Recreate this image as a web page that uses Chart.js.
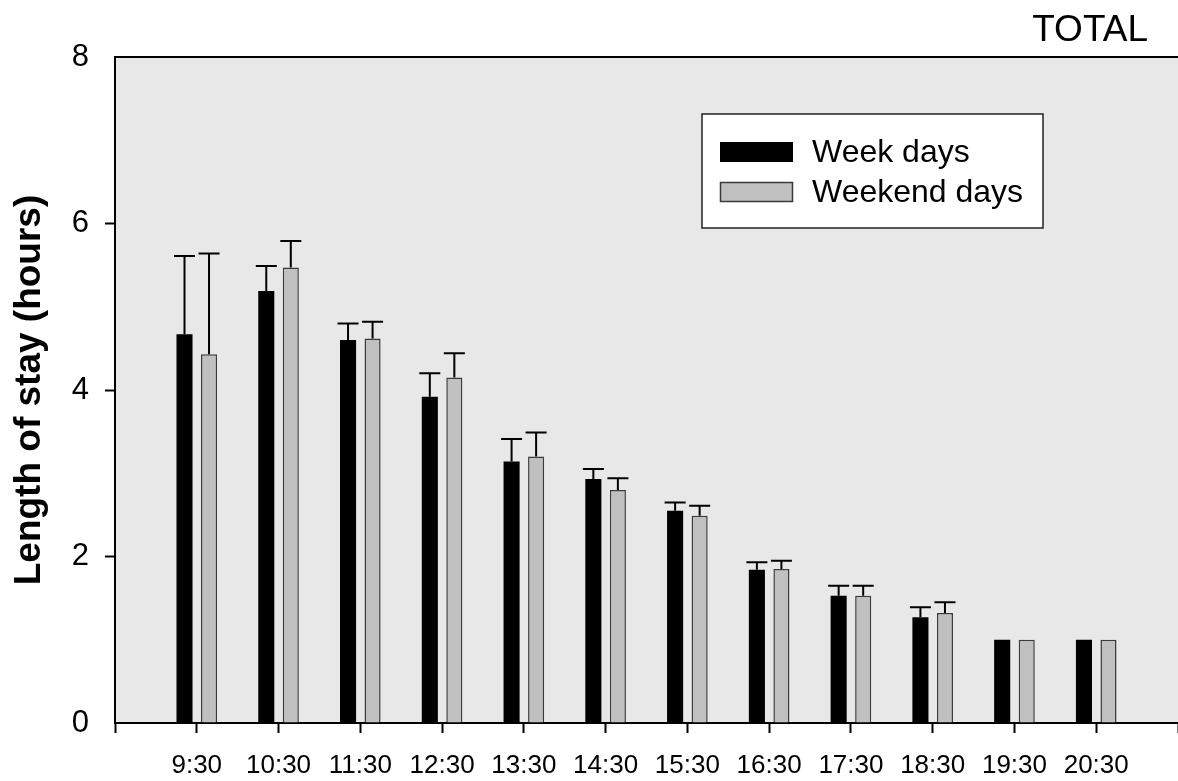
<!DOCTYPE html>
<html>
<head>
<meta charset="utf-8">
<script src="https://cdn.jsdelivr.net/npm/chart.js@4.4.0/dist/chart.umd.min.js"></script>
<style>
  html, body { margin: 0; padding: 0; background: #fff; }
</style>
</head>
<body>
<canvas id="stayChart" width="1178" height="781"></canvas>
<script>
const chartTitle = 'TOTAL';
const timeLabels = ['9:30', '10:30', '11:30', '12:30', '13:30', '14:30', '15:30', '16:30', '17:30', '18:30', '19:30', '20:30'];
const weekDays = [4.67, 5.19, 4.60, 3.92, 3.14, 2.93, 2.55, 1.84, 1.53, 1.27, 1.00, 1.00];
const weekendDays = [4.43, 5.47, 4.62, 4.15, 3.20, 2.80, 2.49, 1.85, 1.53, 1.32, 1.00, 1.00];
// upper error bars (only the plus side is drawn)
const weekDaysErr = [0.94, 0.30, 0.20, 0.28, 0.27, 0.12, 0.10, 0.09, 0.12, 0.12, 0, 0];
const weekendDaysErr = [1.21, 0.32, 0.20, 0.29, 0.29, 0.14, 0.12, 0.10, 0.12, 0.13, 0, 0];
const yTicks = [0, 2, 4, 6, 8];

Chart.defaults.font.family = "'Liberation Sans', Arial, sans-serif";
Chart.defaults.color = '#000';

function toPoints(values) {
    return values.map((v, i) => ({ x: i + 1, y: v }));
}

const plotBackground = {
    id: 'plotBackground',
    beforeDraw(chart) {
        const { ctx, chartArea } = chart;
        ctx.save();
        ctx.fillStyle = '#e8e8e8';
        ctx.fillRect(chartArea.left, chartArea.top, chart.width - chartArea.left, chartArea.bottom - chartArea.top);
        ctx.restore();
    },
    afterDraw(chart) {
        const { ctx, chartArea } = chart;
        ctx.save();
        ctx.strokeStyle = '#000';
        ctx.lineWidth = 2;
        ctx.beginPath();
        ctx.moveTo(chartArea.left - 1, chartArea.top);
        ctx.lineTo(chart.width, chartArea.top);
        ctx.stroke();
        // title in the top right corner
        ctx.font = "37px 'Liberation Sans', Arial, sans-serif";
        ctx.fillStyle = '#000';
        ctx.textAlign = 'right';
        ctx.textBaseline = 'alphabetic';
        ctx.fillText(chartTitle, chart.width - 30, chartArea.top - 16);
        ctx.restore();
    }
};

const errorBars = {
    id: 'errorBars',
    afterDatasetsDraw(chart) {
        const ctx = chart.ctx;
        const yScale = chart.scales.y;
        chart.data.datasets.forEach((ds, di) => {
            const meta = chart.getDatasetMeta(di);
            meta.data.forEach((bar, i) => {
                const err = ds.errors[i];
                if (!err) return;
                const top = yScale.getPixelForValue(ds.data[i].y + err);
                ctx.save();
                ctx.strokeStyle = '#000';
                ctx.lineWidth = 2;
                ctx.beginPath();
                ctx.moveTo(bar.x, bar.y);
                ctx.lineTo(bar.x, top);
                ctx.moveTo(bar.x - 10.5, top);
                ctx.lineTo(bar.x + 10.5, top);
                ctx.stroke();
                ctx.restore();
            });
        });
    }
};

const boxLegend = {
    id: 'boxLegend',
    afterDraw(chart) {
        const { ctx, chartArea } = chart;
        const bx = chartArea.left + 587, by = chartArea.top + 57;
        ctx.save();
        ctx.fillStyle = '#fff';
        ctx.fillRect(bx, by, 341, 114);
        ctx.strokeStyle = '#222';
        ctx.lineWidth = 1.5;
        ctx.strokeRect(bx, by, 341, 114);
        ctx.font = "32px 'Liberation Sans', Arial, sans-serif";
        ctx.textBaseline = 'middle';
        ctx.textAlign = 'left';
        chart.data.datasets.forEach((ds, i) => {
            const sy = by + 28 + i * 40;
            ctx.fillStyle = ds.backgroundColor;
            ctx.fillRect(bx + 18, sy, 73, 20);
            if (ds.borderWidth) {
                ctx.strokeStyle = ds.borderColor;
                ctx.lineWidth = ds.borderWidth;
                ctx.strokeRect(bx + 18.5, sy + 0.5, 72, 19);
            }
            ctx.fillStyle = '#000';
            ctx.fillText(ds.label, bx + 110, sy + 11);
        });
        ctx.restore();
    }
};

const ctx = document.getElementById('stayChart').getContext('2d');
const stayChart = new Chart(ctx, {
    type: 'bar',
    data: {
        datasets: [{
            label: 'Week days',
            data: toPoints(weekDays),
            errors: weekDaysErr,
            backgroundColor: '#000000',
            borderColor: '#000000',
            borderWidth: 0,
            categoryPercentage: 0.6,
            barPercentage: 0.655
        }, {
            label: 'Weekend days',
            data: toPoints(weekendDays),
            errors: weekendDaysErr,
            backgroundColor: '#c0c0c0',
            borderColor: '#3a3a3a',
            borderWidth: 1.5,
            categoryPercentage: 0.6,
            barPercentage: 0.655
        }]
    },
    options: {
        responsive: false,
        animation: false,
        events: [],
        layout: { padding: { top: 57, right: -3, left: 0, bottom: 0 } },
        plugins: {
            legend: { display: false },
            tooltip: { enabled: false }
        },
        scales: {
            x: {
                type: 'linear',
                min: 0,
                max: 13,
                offset: false,
                z: 1,
                ticks: {
                    stepSize: 1,
                    autoSkip: false,
                    maxRotation: 0,
                    padding: 17,
                    font: { size: 26 },
                    callback: v => timeLabels[v - 1] || ''
                },
                grid: { offset: false, drawOnChartArea: false, tickLength: 10, tickWidth: 2, tickColor: '#000' },
                border: { color: '#000', width: 2 },
                afterFit: s => {
                    s.height = 58;
                    s.paddingLeft = 0;
                    s.paddingRight = 0;
                }
            },
            y: {
                min: 0,
                max: 8,
                z: 1,
                afterBuildTicks: s => { s.ticks = yTicks.map(v => ({ value: v })); },
                ticks: { padding: 16, font: { size: 31 } },
                grid: {
                    drawOnChartArea: false,
                    tickLength: 10,
                    tickWidth: 2,
                    tickColor: c => (c.tick.value === 0 || c.tick.value === 8) ? 'rgba(0,0,0,0)' : '#000'
                },
                border: { color: '#000', width: 2 },
                title: {
                    display: true,
                    text: 'Length of stay (hours)',
                    font: { size: 37, weight: 'bold' },
                    padding: { top: 8, bottom: 0 }
                },
                afterFit: s => { s.width = 115; }
            }
        }
    },
    plugins: [plotBackground, errorBars, boxLegend]
});
</script>
</body>
</html>
